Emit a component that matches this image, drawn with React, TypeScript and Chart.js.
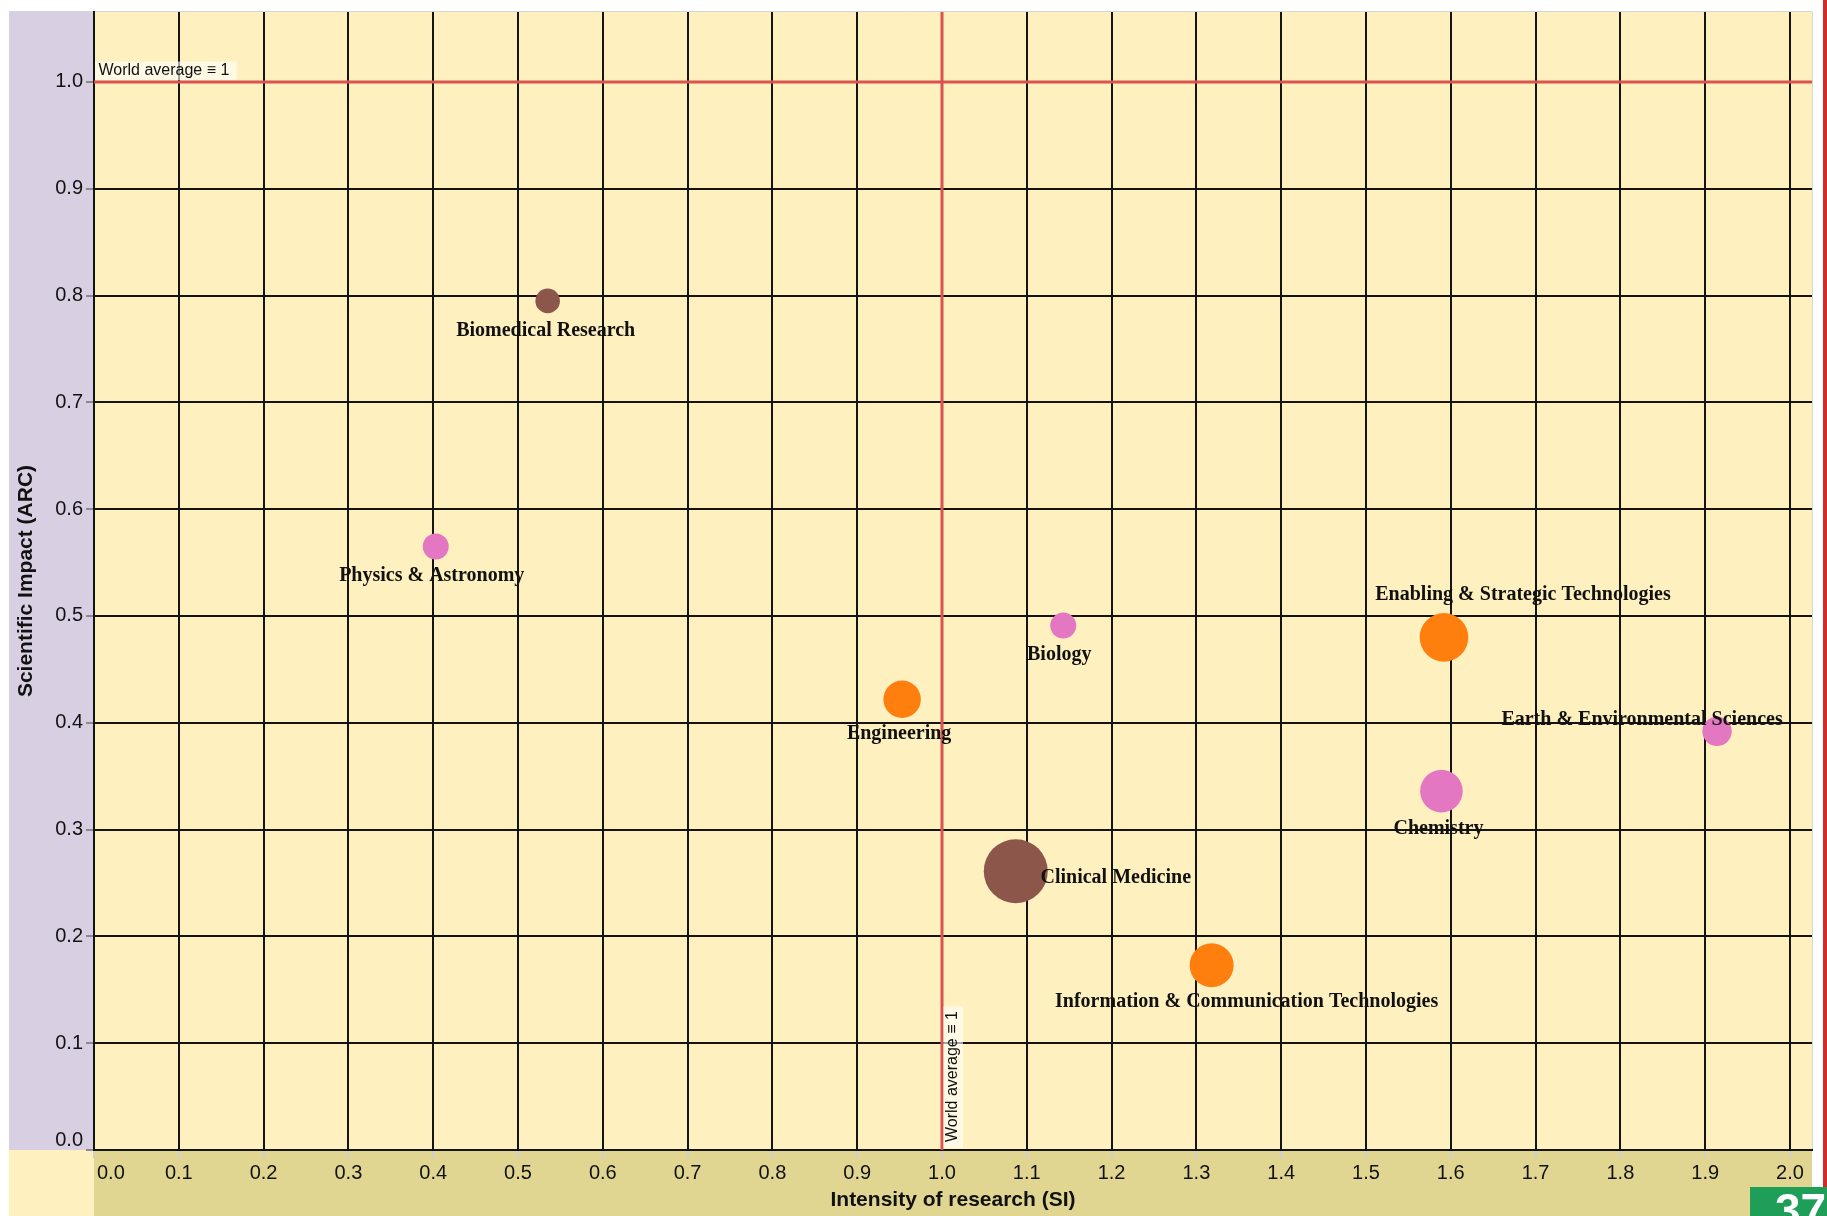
import React, { useEffect, useRef } from 'react';
import { Chart, registerables } from 'chart.js';

Chart.register(...registerables);

// ---------- data ----------
const fields = [
  'Biomedical Research',
  'Physics & Astronomy',
  'Biology',
  'Engineering',
  'Enabling & Strategic Technologies',
  'Earth & Environmental Sciences',
  'Chemistry',
  'Clinical Medicine',
  'Information & Communication Technologies',
];
const intensitySI = [0.535, 0.403, 1.143, 0.953, 1.592, 1.914, 1.589, 1.087, 1.318];
const impactARC = [0.795, 0.565, 0.491, 0.422, 0.48, 0.392, 0.336, 0.261, 0.173];
const publicationVolume = [12.3, 13, 13, 18.7, 24.3, 14.7, 21.3, 32, 22];
const fieldGroup = ['health', 'physical', 'physical', 'applied', 'applied', 'physical', 'physical', 'health', 'applied'];

const xTickValues = [0.0, 0.1, 0.2, 0.3, 0.4, 0.5, 0.6, 0.7, 0.8, 0.9, 1.0, 1.1, 1.2, 1.3, 1.4, 1.5, 1.6, 1.7, 1.8, 1.9, 2.0];
const yTickValues = [0.0, 0.1, 0.2, 0.3, 0.4, 0.5, 0.6, 0.7, 0.8, 0.9, 1.0];
const worldAverage = 1;
const xAxisTitle = 'Intensity of research (SI)';
const yAxisTitle = 'Scientific Impact (ARC)';
const referenceLabel = 'World average \u2261 1';
const pageNumber = '37';

// ---------- styling ----------
const groupColors: Record<string, string> = {
  health: '#8c564b',
  physical: '#e377c2',
  applied: '#ff7f0e',
};
// label placement relative to bubble centre [dx, dy]
const labelOffsets: number[][] = [
  [-2, 30],
  [-4, 29],
  [-4, 29],
  [-3, 35],
  [79, -43],
  [-75, -11],
  [-3, 38],
  [100, 7],
  [35, 37],
];

const PLOT_BG = '#fef0bf';
const PURPLE_BG = '#d9cfe2';
const KHAKI_BG = '#e0d591';
const GRID = '#141414';
const RED = '#d9534f';
const SANS = '"Liberation Sans", Arial, sans-serif';
const SERIF = '"Liberation Serif", "Times New Roman", serif';

const W = 1827;
const H = 1216;

const zeroPadding = (scale: any) => {
  scale.paddingTop = 0;
  scale.paddingBottom = 0;
  scale.paddingLeft = 0;
  scale.paddingRight = 0;
};

const decorPlugin = {
  id: 'decor',
  beforeDraw(chart: any) {
    const { ctx, chartArea: ca } = chart;
    ctx.save();
    ctx.fillStyle = '#ffffff';
    ctx.fillRect(0, 0, W, H);
    ctx.fillStyle = PURPLE_BG;
    ctx.fillRect(9, 11, ca.left - 9, ca.bottom - 11);
    ctx.fillStyle = PLOT_BG;
    ctx.fillRect(9, ca.bottom, ca.left - 9, H - ca.bottom);
    ctx.fillStyle = KHAKI_BG;
    ctx.fillRect(ca.left, ca.bottom, ca.right - ca.left, H - ca.bottom);
    ctx.fillStyle = PLOT_BG;
    ctx.fillRect(ca.left, ca.top, ca.right - ca.left, ca.bottom - ca.top);
    ctx.strokeStyle = '#d6d6d6';
    ctx.lineWidth = 1;
    ctx.beginPath();
    ctx.moveTo(9, 11.5);
    ctx.lineTo(ca.right + 0.5, 11.5);
    ctx.lineTo(ca.right + 0.5, ca.bottom);
    ctx.stroke();
    ctx.restore();
  },
  beforeDatasetsDraw(chart: any) {
    const { ctx, chartArea: ca, scales } = chart;
    const xl = Math.round(scales.x.getPixelForValue(worldAverage));
    const yl = Math.round(scales.y.getPixelForValue(worldAverage));
    ctx.save();
    ctx.strokeStyle = RED;
    ctx.lineWidth = 3;
    ctx.beginPath();
    ctx.moveTo(ca.left, yl);
    ctx.lineTo(ca.right, yl);
    ctx.moveTo(xl, ca.top);
    ctx.lineTo(xl, ca.bottom);
    ctx.stroke();

    ctx.font = `16px ${SANS}`;
    const tw = ctx.measureText(referenceLabel).width;
    // horizontal reference label
    ctx.fillStyle = 'rgba(255,255,255,0.6)';
    ctx.fillRect(ca.left + 1, yl - 20.5, tw + 11, 18.5);
    ctx.fillStyle = '#111';
    ctx.textAlign = 'left';
    ctx.textBaseline = 'middle';
    ctx.fillText(referenceLabel, ca.left + 4.5, yl - 11);
    // vertical reference label
    ctx.fillStyle = 'rgba(255,255,255,0.6)';
    ctx.fillRect(xl + 1.5, ca.bottom - 2 - (tw + 11), 19.5, tw + 11);
    ctx.save();
    ctx.translate(xl + 11, ca.bottom - 8);
    ctx.rotate(-Math.PI / 2);
    ctx.fillStyle = '#111';
    ctx.fillText(referenceLabel, 0, 0);
    ctx.restore();
    ctx.restore();
  },
  afterDatasetsDraw(chart: any) {
    const { ctx } = chart;
    const meta = chart.getDatasetMeta(0);
    ctx.save();
    ctx.font = `bold 20px ${SERIF}`;
    ctx.fillStyle = '#111';
    ctx.textAlign = 'center';
    ctx.textBaseline = 'middle';
    meta.data.forEach((el: any, i: number) => {
      const [dx, dy] = labelOffsets[i];
      ctx.fillText(fields[i], el.x + dx, el.y + dy);
    });
    ctx.restore();
  },
  afterDraw(chart: any) {
    const { ctx, chartArea: ca } = chart;
    ctx.save();
    // origin tick labels, nudged inside like the original
    ctx.font = `20px ${SANS}`;
    ctx.fillStyle = '#111';
    ctx.textBaseline = 'middle';
    ctx.textAlign = 'left';
    ctx.fillText(xTickValues[0].toFixed(1), ca.left + 3, ca.bottom + 23);
    ctx.textAlign = 'right';
    ctx.fillText(yTickValues[0].toFixed(1), ca.left - 11, ca.bottom - 10);
    // right red strip and page number badge
    ctx.fillStyle = '#d12b2b';
    ctx.fillRect(1823, 0, 4, 1187);
    ctx.fillStyle = '#1f9e58';
    ctx.fillRect(1750, 1187, 77, H - 1187);
    ctx.beginPath();
    ctx.rect(1750, 1187, 77, H - 1187);
    ctx.clip();
    ctx.fillStyle = '#ffffff';
    ctx.font = `bold 46px ${SANS}`;
    ctx.textAlign = 'left';
    ctx.textBaseline = 'alphabetic';
    ctx.fillText(pageNumber, 1775, 1226);
    ctx.restore();
  },
};

export default function App() {
  const canvasRef = useRef<HTMLCanvasElement | null>(null);

  useEffect(() => {
    document.body.style.margin = '0';
    document.body.style.overflow = 'hidden';
    const canvas = canvasRef.current;
    if (!canvas) return;
    const points = intensitySI.map((x, i) => ({ x, y: impactARC[i], r: publicationVolume[i] }));
    const colors = fieldGroup.map((g) => groupColors[g]);

    const chart = new Chart(canvas, {
      type: 'bubble',
      data: {
        datasets: [
          {
            label: 'Fields',
            data: points,
            backgroundColor: colors,
            hoverBackgroundColor: colors,
            borderWidth: 0,
            hoverBorderWidth: 0,
          },
        ],
      },
      plugins: [decorPlugin],
      options: {
        responsive: false,
        animation: false,
        devicePixelRatio: 1,
        events: [],
        layout: { autoPadding: false, padding: { left: 0, top: 12, right: 15, bottom: 0 } },
        plugins: {
          legend: { display: false },
          tooltip: { enabled: false },
        },
        scales: {
          x: {
            type: 'linear',
            position: 'bottom',
            min: 0,
            max: 2.026,
            bounds: 'data',
            afterBuildTicks: (scale: any) => {
              scale.ticks = xTickValues.map((v) => ({ value: v }));
            },
            afterFit: (scale: any) => {
              scale.height = 66;
              zeroPadding(scale);
            },
            grid: {
              color: GRID,
              lineWidth: 2,
              drawTicks: true,
              tickLength: 8,
              tickColor: '#cfcfcf',
              tickWidth: 2,
            },
            border: { color: GRID, width: 2 },
            ticks: {
              padding: 3,
              color: '#111',
              font: { family: SANS, size: 20 },
              maxRotation: 0,
              autoSkip: false,
              callback: (v: any) => (Number(v) === 0 ? '' : Number(v).toFixed(1)),
            },
            title: {
              display: true,
              text: xAxisTitle,
              color: '#111',
              font: { family: SANS, size: 21, weight: 'bold' },
              padding: { top: 0, bottom: 3.4 },
            },
          },
          y: {
            type: 'linear',
            position: 'left',
            min: 0,
            max: 1.0655,
            bounds: 'data',
            afterBuildTicks: (scale: any) => {
              scale.ticks = yTickValues.map((v) => ({ value: v }));
            },
            afterFit: (scale: any) => {
              scale.width = 94;
              zeroPadding(scale);
            },
            grid: {
              color: GRID,
              lineWidth: 2,
              drawTicks: true,
              tickLength: 8,
              tickColor: '#8a8a8a',
              tickWidth: 2,
            },
            border: { color: GRID, width: 2 },
            ticks: {
              padding: 3,
              color: '#111',
              font: { family: SANS, size: 20 },
              autoSkip: false,
              callback: (v: any) => (Number(v) === 0 ? '' : Number(v).toFixed(1)),
            },
            title: {
              display: true,
              text: yAxisTitle,
              color: '#111',
              font: { family: SANS, size: 21, weight: 'bold' },
              padding: { top: 13.4, bottom: 0 },
            },
          },
        },
      },
    } as any);

    return () => {
      chart.destroy();
    };
  }, []);

  return (
    <div style={{ position: 'absolute', left: 0, top: 0, width: W, height: H, overflow: 'hidden' }}>
      <canvas ref={canvasRef} width={W} height={H} style={{ display: 'block', width: W, height: H }} />
    </div>
  );
}
